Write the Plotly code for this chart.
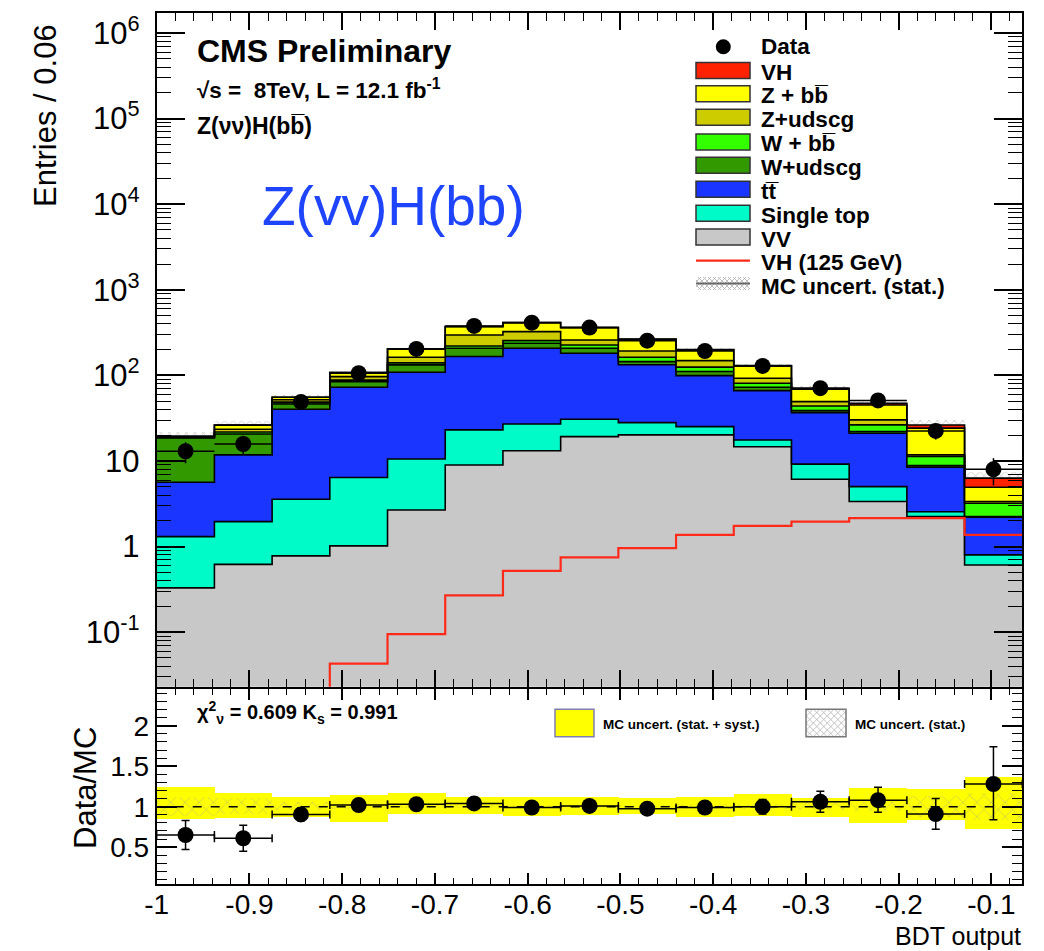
import numpy as np
import plotly.graph_objects as go

W, H = 1044, 951

# ---------------- data ----------------
x_lo, x_hi = -1.0, -0.0667
n_bins = 15

vv         = [0.33, 0.62, 0.78, 1.02, 2.68, 9.0, 13.2, 19.3, 20.2, 20.2, 14.7, 6.13, 3.36, 2.24, 0.61]
single_top = [0.98, 1.34, 2.8, 5.4, 7.9, 14.1, 13.9, 11.5, 7.9, 5.0, 2.9, 3.07, 1.66, 0.32, 0.19]
ttbar      = [4.34, 9.84, 36.7, 66.4, 98.4, 143, 181, 151, 105, 74.3, 48.8, 27.6, 16.1, 5.91, 1.4]
w_udscg    = [12.9, 8.9, 6.1, 11.9, 24, 42, 30, 26, 12, 11.5, 6.4, 2.0, 1.0, 0.37, 0.04]
w_bb       = [0.3, 1.1, 1.6, 3.3, 7, 13, 17, 19, 18, 14, 8.3, 5.2, 4.3, 2.46, 0.97]
z_udscg    = [0.3, 1.7, 4.0, 8.8, 23, 76, 70, 33, 30, 24, 11.6, 5.4, 3.8, 0.5, 0.15]
z_bb       = [0.3, 2.8, 3.6, 11.2, 41, 75, 89, 102, 72, 50, 36, 19.6, 15, 12.4, 1.58]
vh_signal  = [0.005, 0.01, 0.018, 0.043, 0.095, 0.27, 0.52, 0.75, 0.96, 1.37, 1.75, 1.96, 2.15, 2.15, 1.37]

data     = [13, 15.8, 49, 106, 204, 379, 413, 362, 255, 193, 129, 71, 51, 22.5, 8.0]
data_err = [3.6, 4.0, 7.0, 10.3, 14.3, 19.5, 20.3, 19.0, 16.0, 13.9, 11.4, 8.4, 7.1, 4.7, 2.8]

mc_stat_rel = [0.12, 0.10, 0.05, 0.03, 0.02, 0.02, 0.02, 0.02, 0.02, 0.03, 0.03, 0.05, 0.06, 0.13, 0.17]

ratio        = [0.65, 0.61, 0.905, 1.02, 1.03, 1.04, 0.99, 1.01, 0.975, 0.99, 1.0, 1.06, 1.08, 0.91, 1.28]
ratio_err_up = [0.18, 0.16, 0.08, 0.07, 0.05, 0.05, 0.05, 0.05, 0.06, 0.07, 0.09, 0.13, 0.16, 0.19, 0.46]
ratio_err_dn = [0.18, 0.16, 0.08, 0.07, 0.05, 0.05, 0.05, 0.05, 0.06, 0.07, 0.09, 0.13, 0.15, 0.19, 0.44]
band_lo = [0.845, 0.86, 0.87, 0.81, 0.90, 0.91, 0.885, 0.89, 0.90, 0.875, 0.88, 0.875, 0.79, 0.835, 0.72]
band_hi = [1.24, 1.17, 1.12, 1.14, 1.16, 1.12, 1.12, 1.12, 1.10, 1.12, 1.15, 1.10, 1.23, 1.21, 1.36]

main_tickvals = [0.1, 1, 10, 100, 1000, 1e4, 1e5, 1e6]
main_ticktext = ["10<sup>-1</sup>", "1", "10", "10<sup>2</sup>", "10<sup>3</sup>",
                 "10<sup>4</sup>", "10<sup>5</sup>", "10<sup>6</sup>"]
x_tickvals = [-1, -0.9, -0.8, -0.7, -0.6, -0.5, -0.4, -0.3, -0.2, -0.1]
x_ticktext = ["-1", "-0.9", "-0.8", "-0.7", "-0.6", "-0.5", "-0.4", "-0.3", "-0.2", "-0.1"]
r_tickvals = [0.5, 1, 1.5, 2]
r_ticktext = ["0.5", "1", "1.5", "2"]

components = [  # bottom -> top
    ("VV", vv, "#c8c8c8"),
    ("Single top", single_top, "#00fbc8"),
    ("tt", ttbar, "#1a35ff"),
    ("W+udscg", w_udscg, "#339900"),
    ("W + bb", w_bb, "#33ff00"),
    ("Z+udscg", z_udscg, "#cccc00"),
    ("Z + bb", z_bb, "#ffff00"),
    ("VH", vh_signal, "#ff2200"),
]

# ---------------- geometry helpers ----------------
FONT = "Liberation Sans"
def px(x):
    return x / W
def py(y):
    return 1 - y / H

edges = np.linspace(x_lo, x_hi, n_bins + 1)
centers = 0.5 * (edges[:-1] + edges[1:])
half = 0.5 * (edges[1] - edges[0])
xs_step = np.append(edges[:-1], edges[-1])

def step_y(v):
    v = np.asarray(v, dtype=float)
    return np.append(v, v[-1])

fig = go.Figure()

# baseline for the first fill (below axis range)
fig.add_trace(go.Scatter(x=xs_step, y=step_y(np.full(n_bins, 1e-3)), mode="lines",
                         line=dict(width=0, shape="hv"), showlegend=False, hoverinfo="skip",
                         xaxis="x", yaxis="y"))
cum = np.zeros(n_bins)
for name, vals, col in components:
    cum = cum + np.asarray(vals, dtype=float)
    fig.add_trace(go.Scatter(x=xs_step, y=step_y(cum), mode="lines", name=name,
                             line=dict(color="black", width=1.6, shape="hv"),
                             fill="tonexty", fillcolor=col, showlegend=False,
                             xaxis="x", yaxis="y"))
total = cum.copy()

# MC stat uncertainty hatch on main panel
rel = np.asarray(mc_stat_rel)
fig.add_trace(go.Bar(x=centers, y=total * 2 * rel, base=total * (1 - rel), width=2 * half,
                     marker=dict(color="rgba(0,0,0,0)", line=dict(width=0),
                                 pattern=dict(shape="x", fgcolor="#8a8a8a", size=6, solidity=0.25)),
                     showlegend=False, xaxis="x", yaxis="y"))

# VH 125 line (unstacked)
fig.add_trace(go.Scatter(x=xs_step, y=step_y(vh_signal), mode="lines",
                         line=dict(color="#ff2a1a", width=2.2, shape="hv"),
                         showlegend=False, xaxis="x", yaxis="y"))

# data
fig.add_trace(go.Scatter(x=centers, y=data, mode="markers",
                         marker=dict(color="black", size=16),
                         error_y=dict(type="data", array=data_err, color="black", thickness=1.5, width=0),
                         error_x=dict(type="data", array=[half] * n_bins, color="black", thickness=1.5, width=0),
                         showlegend=False, xaxis="x", yaxis="y"))

# ---------------- ratio panel ----------------
blo = np.asarray(band_lo); bhi = np.asarray(band_hi)
fig.add_trace(go.Bar(x=centers, y=bhi - blo, base=blo, width=2 * half,
                     marker=dict(color="#ffff00", line=dict(width=0)),
                     showlegend=False, xaxis="x2", yaxis="y2"))
fig.add_trace(go.Bar(x=centers, y=2 * rel, base=1 - rel, width=2 * half,
                     marker=dict(color="rgba(0,0,0,0)", line=dict(width=0),
                                 pattern=dict(shape="x", fgcolor="#9a9a9a", size=10, solidity=0.15)),
                     showlegend=False, xaxis="x2", yaxis="y2"))
fig.add_trace(go.Scatter(x=[x_lo, x_hi], y=[1, 1], mode="lines",
                         line=dict(color="black", width=1.5, dash="dash"),
                         showlegend=False, xaxis="x2", yaxis="y2"))
fig.add_trace(go.Scatter(x=centers, y=ratio, mode="markers",
                         marker=dict(color="black", size=16),
                         error_y=dict(type="data", symmetric=False, array=ratio_err_up,
                                      arrayminus=ratio_err_dn, color="black", thickness=1.5, width=4),
                         error_x=dict(type="data", array=[half] * n_bins, color="black", thickness=1.5, width=4),
                         showlegend=False, xaxis="x2", yaxis="y2"))

# ---------------- axes ----------------
xdom = [px(156.7), px(1022.3)]
main_dom = [py(686.7), py(13.3)]
ratio_dom = [py(884), py(689.3)]
tickfont_main = dict(family=FONT, size=31, color="black")

common_x = dict(range=[x_lo, x_hi], domain=xdom, showgrid=False, zeroline=False,
                showline=True, linecolor="black", linewidth=2, mirror="allticks",
                ticks="inside", tickcolor="black", tickwidth=1.5, automargin=False,
                tickmode="array", tickvals=x_tickvals)

fig.update_layout(
    width=W, height=H, margin=dict(l=0, r=0, t=0, b=0, pad=0, autoexpand=False),
    paper_bgcolor="white", plot_bgcolor="white", showlegend=False,
    barmode="overlay", bargap=0,
    xaxis=dict(**common_x, anchor="y", showticklabels=False, ticklen=17,
               minor=dict(ticks="inside", ticklen=8, tickmode="linear", tick0=-1, dtick=0.02,
                          tickcolor="black", tickwidth=1.2)),
    yaxis=dict(type="log", range=[np.log10(0.0231), np.log10(1.70e6)], domain=main_dom,
               anchor="x", showgrid=False, zeroline=False, showline=True, linecolor="black",
               linewidth=2, mirror="allticks", ticks="inside", ticklen=28, tickwidth=1.5,
               tickcolor="black", tickmode="array", tickvals=main_tickvals, ticktext=main_ticktext,
               tickfont=tickfont_main, ticklabelstandoff=9, automargin=False,
               minor=dict(ticks="inside", ticklen=14, dtick="D1", tickcolor="black", tickwidth=1.2)),
    xaxis2=dict(**common_x, anchor="y2", ticktext=x_ticktext, ticklen=11,
                tickfont=dict(family=FONT, size=28, color="black"), ticklabelstandoff=-6,
                minor=dict(ticks="inside", ticklen=6, tickmode="linear", tick0=-1, dtick=0.02,
                           tickcolor="black", tickwidth=1.2)),
    yaxis2=dict(range=[0.045, 2.45], domain=ratio_dom, anchor="x2", showgrid=False,
                zeroline=False, showline=True, linecolor="black", linewidth=2, mirror="allticks",
                ticks="inside", ticklen=20, tickwidth=1.5, tickcolor="black", automargin=False,
                tickmode="array", tickvals=r_tickvals, ticktext=r_ticktext,
                tickfont=dict(family=FONT, size=28, color="black"),
                minor=dict(ticks="inside", ticklen=10, tickmode="linear", tick0=0, dtick=0.1,
                           tickcolor="black", tickwidth=1.2)),
)

# ---------------- annotations ----------------
ann = []
def text(x, y, s, size, bold=False, color="black", xanchor="left", angle=0):
    ann.append(dict(x=px(x), y=py(y), xref="paper", yref="paper", text=s, showarrow=False,
                    xanchor=xanchor, yanchor="middle", textangle=angle, borderpad=0,
                    font=dict(family=FONT, size=size, color=color, weight="bold" if bold else "normal")))

text(45, 116, "Entries / 0.06", 31, angle=-90, xanchor="center")
text(85, 788, "Data/MC", 31, angle=-90, xanchor="center")
text(1022, 936, "BDT output", 25, xanchor="right")
text(196, 51, "CMS Preliminary", 32, bold=True)
text(196, 89, "√s =  8TeV, L = 12.1 fb<sup>-1</sup>", 22.5, bold=True)
text(196, 126, "Z(νν)H(bb\u0305)", 23, bold=True)
text(393, 206, "Z(vv)H(bb)", 55, color="#1f45fc", xanchor="center")
text(196, 712, "χ<sup>2</sup><sub>ν</sub> = 0.609 K<sub>s</sub> = 0.991", 20, bold=True)

# main legend
leg_entries = [
    ("VH", "#ff2200", 70.5),
    ("Z + bb\u0305", "#ffff00", 93.8),
    ("Z+udscg", "#cccc00", 117.3),
    ("W + bb\u0305", "#33ff00", 142.0),
    ("W+udscg", "#339900", 165.3),
    ("tt\u0305", "#1a35ff", 189.3),
    ("Single top", "#00fbc8", 213.3),
    ("VV", "#c8c8c8", 237.0),
]
LF = 22.5
shapes = []
bx0, bx1 = 696, 750
shapes.append(dict(type="circle", xref="paper", yref="paper", x0=px(715.8), x1=px(730.8),
                   y0=py(54.2), y1=py(39.2), fillcolor="black", line=dict(width=0)))
text(760, 46, "Data", LF, bold=True)
for lab, col, yc in leg_entries:
    shapes.append(dict(type="rect", xref="paper", yref="paper", x0=px(bx0), x1=px(bx1),
                       y0=py(yc + 8), y1=py(yc - 8), fillcolor=col,
                       line=dict(color="#333333", width=1.5)))
    text(760, yc + 2, lab, LF, bold=True)
shapes.append(dict(type="line", xref="paper", yref="paper", x0=px(bx0), x1=px(bx1),
                   y0=py(260.7), y1=py(260.7), line=dict(color="#ff2a1a", width=2.2)))
text(760, 262, "VH (125 GeV)", LF, bold=True)

def hatch(x0, y0, x1, y1, step, color, width=0.8):
    w = x1 - x0; h = y1 - y0
    d = ""
    k = -h
    while k < w:
        for sgn in (1, -1):
            tmin = max(0.0, -k / h); tmax = min(1.0, (w - k) / h)
            if tmin < tmax:
                xa = x0 + k + tmin * h; xb = x0 + k + tmax * h
                if sgn == 1:
                    ya = y0 + tmin * h; yb = y0 + tmax * h
                else:
                    ya = y1 - tmin * h; yb = y1 - tmax * h
                d += f"M{px(xa):.5f},{py(ya):.5f} L{px(xb):.5f},{py(yb):.5f} "
        k += step
    return dict(type="path", xref="paper", yref="paper", path=d, line=dict(color=color, width=width))

shapes.append(hatch(bx0, 277, bx1, 290, 5, "#b0b0b0"))
shapes.append(dict(type="line", xref="paper", yref="paper", x0=px(bx0), x1=px(bx1),
                   y0=py(283.5), y1=py(283.5), line=dict(color="#666666", width=2)))
text(760, 286, "MC uncert. (stat.)", LF, bold=True)

# ratio legend
shapes.append(dict(type="rect", xref="paper", yref="paper", x0=px(555), x1=px(594),
                   y0=py(736.7), y1=py(709.3), fillcolor="#ffff00",
                   line=dict(color="#8080b0", width=1.5)))
text(602, 724, "MC uncert. (stat. + syst.)", 13.5, bold=True)
shapes.append(hatch(806, 709.3, 846, 736.7, 7, "#b5b5b5"))
shapes.append(dict(type="rect", xref="paper", yref="paper", x0=px(806), x1=px(846),
                   y0=py(736.7), y1=py(709.3), line=dict(color="#777777", width=1.5)))
text(854, 724, "MC uncert. (stat.)", 13.5, bold=True)

fig.update_layout(annotations=ann, shapes=shapes)
fig.write_html("out.html")
